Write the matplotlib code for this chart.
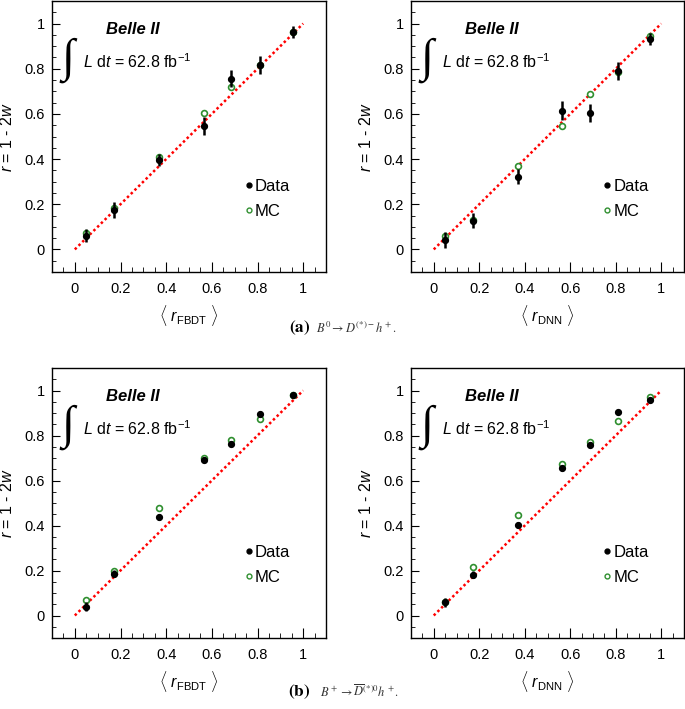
import matplotlib
matplotlib.use("Agg")
import matplotlib.pyplot as plt
from matplotlib.lines import Line2D
from matplotlib.ticker import MultipleLocator

plt.rcParams["font.family"] = ["Liberation Sans", "DejaVu Sans"]
plt.rcParams["mathtext.fontset"] = "custom"
plt.rcParams["mathtext.rm"] = "Liberation Sans"
plt.rcParams["mathtext.it"] = "Liberation Sans:italic"
plt.rcParams["mathtext.bf"] = "Liberation Sans:bold"

# bin centres <r> for each tagger
r_fbdt = [0.048, 0.171, 0.370, 0.566, 0.686, 0.811, 0.955]
r_dnn = [0.051, 0.172, 0.371, 0.563, 0.689, 0.812, 0.950]

# (a) B0 -> D(*)- h+
a_fbdt_data = [0.061, 0.176, 0.396, 0.547, 0.756, 0.816, 0.961]
a_fbdt_data_err = [0.030, 0.035, 0.026, 0.040, 0.037, 0.040, 0.027]
a_fbdt_mc = [0.072, 0.185, 0.410, 0.603, 0.721, 0.816, 0.961]
a_dnn_data = [0.041, 0.128, 0.322, 0.615, 0.606, 0.788, 0.931]
a_dnn_data_err = [0.035, 0.033, 0.033, 0.040, 0.040, 0.040, 0.027]
a_dnn_mc = [0.059, 0.130, 0.370, 0.546, 0.687, 0.786, 0.944]
a_mc_err = [0.015, 0.012, 0.012, 0.012, 0.012, 0.012, 0.010]

# (b) B+ -> D(*)0bar h+
b_fbdt_data = [0.040, 0.186, 0.437, 0.693, 0.764, 0.897, 0.979]
b_fbdt_data_err = [0.020, 0.015, 0.012, 0.012, 0.012, 0.010, 0.006]
b_fbdt_mc = [0.071, 0.199, 0.476, 0.698, 0.782, 0.872, 0.979]
b_dnn_data = [0.059, 0.181, 0.404, 0.654, 0.760, 0.906, 0.960]
b_dnn_data_err = [0.020, 0.015, 0.012, 0.012, 0.012, 0.008, 0.008]
b_dnn_mc = [0.062, 0.215, 0.447, 0.675, 0.769, 0.863, 0.971]
b_mc_err = [0.005, 0.005, 0.004, 0.004, 0.004, 0.004, 0.003]

diag = [0, 1]
GREEN = "#2f8f2f"

fig = plt.figure(figsize=(6.85, 7.09), dpi=100)
W, H = 685.0, 709.0


def add_ax(left, top, right, bottom):
    return fig.add_axes([left / W, 1 - bottom / H, (right - left) / W, (bottom - top) / H])


panels = [
    (add_ax(52, 1, 326, 272), r_fbdt, a_fbdt_data, a_fbdt_data_err, a_fbdt_mc, a_mc_err, "FBDT"),
    (add_ax(411, 1, 684, 272), r_dnn, a_dnn_data, a_dnn_data_err, a_dnn_mc, a_mc_err, "DNN"),
    (add_ax(52, 368, 326, 638), r_fbdt, b_fbdt_data, b_fbdt_data_err, b_fbdt_mc, b_mc_err, "FBDT"),
    (add_ax(411, 368, 684, 638), r_dnn, b_dnn_data, b_dnn_data_err, b_dnn_mc, b_mc_err, "DNN"),
]

for ax, x, data, derr, mc, mcerr, tag in panels:
    ax.plot(diag, diag, color="red", lw=1.8, ls=(0, (1, 1.1)), zorder=1)
    ax.errorbar(x, mc, yerr=mcerr, fmt="o", ms=4.2, mfc="white", mec=GREEN,
                mew=1.2, ecolor=GREEN, elinewidth=1.2, capsize=0, zorder=2)
    ax.errorbar(x, data, yerr=derr, fmt="o", ms=4.2, color="black",
                elinewidth=1.8, capsize=0, zorder=3)

    ax.set_xlim(-0.1, 1.1)
    ax.set_ylim(-0.1, 1.1)
    ax.xaxis.set_major_locator(MultipleLocator(0.2))
    ax.xaxis.set_minor_locator(MultipleLocator(0.05))
    ax.yaxis.set_major_locator(MultipleLocator(0.2))
    ax.yaxis.set_minor_locator(MultipleLocator(0.05))
    ax.xaxis.set_major_formatter(lambda v, p: f"{v:g}" if abs(v) > 1e-9 else "0")
    ax.yaxis.set_major_formatter(lambda v, p: f"{v:g}" if abs(v) > 1e-9 else "0")
    ax.tick_params(which="both", direction="in", top=False, right=False, labelsize=10.5)
    ax.tick_params(axis="y", which="major", length=6, pad=5)
    ax.tick_params(axis="y", which="minor", length=3)
    ax.tick_params(axis="x", which="major", length=7, pad=7)
    ax.tick_params(axis="x", which="minor", length=3.5)
    for s in ax.spines.values():
        s.set_linewidth(1.0)

    ax.set_ylabel(r"$r$ = 1 - 2$w$", fontsize=11.5, labelpad=7)
    ax.set_xlabel(r"$\langle$ $r$$_{\mathrm{%s}}$ $\rangle$" % tag, fontsize=11.5, labelpad=5)

    ax.text(0.296, 0.893, "Belle II", transform=ax.transAxes, ha="center", va="center",
            fontsize=12, fontweight="bold", fontstyle="italic")
    ax.text(0.058, 0.78, "\u222b", transform=ax.transAxes, ha="center", va="center",
            fontsize=34, family=["Liberation Serif", "DejaVu Sans"])
    ax.text(0.113, 0.775, r"$L$ d$t$ = 62.8 fb$^{\mathrm{-1}}$", transform=ax.transAxes,
            ha="left", va="center", fontsize=11.5)

    handles = [
        Line2D([], [], ls="none", marker="o", ms=3.5, color="black"),
        Line2D([], [], ls="none", marker="o", ms=3.5, mfc="white", mec=GREEN, mew=1.0),
    ]
    ax.legend(handles, ["Data", "MC"], loc="upper left", bbox_to_anchor=(0.71, 0.345),
              frameon=False, fontsize=12, handlelength=0.3, handletextpad=0.2,
              labelspacing=0.6, borderpad=0, borderaxespad=0)

fig.text(310 / W, 1 - 328 / H, r"$\mathbf{(a)}$", ha="right", va="center",
         fontsize=12.5, math_fontfamily="stix")
fig.text(316 / W, 1 - 328 / H, r"$B^0 \rightarrow D^{(*)-}h^+.$", ha="left", va="center",
         fontsize=9, math_fontfamily="stix", color="#333333")
fig.text(310 / W, 1 - 692 / H, r"$\mathbf{(b)}$", ha="right", va="center",
         fontsize=12.5, math_fontfamily="stix")
fig.text(320 / W, 1 - 692 / H, r"$B^+ \rightarrow \overline{D}^{(*)0}h^+.$", ha="left",
         va="center", fontsize=9, math_fontfamily="stix", color="#333333")

fig.savefig("out.png", dpi=100)
